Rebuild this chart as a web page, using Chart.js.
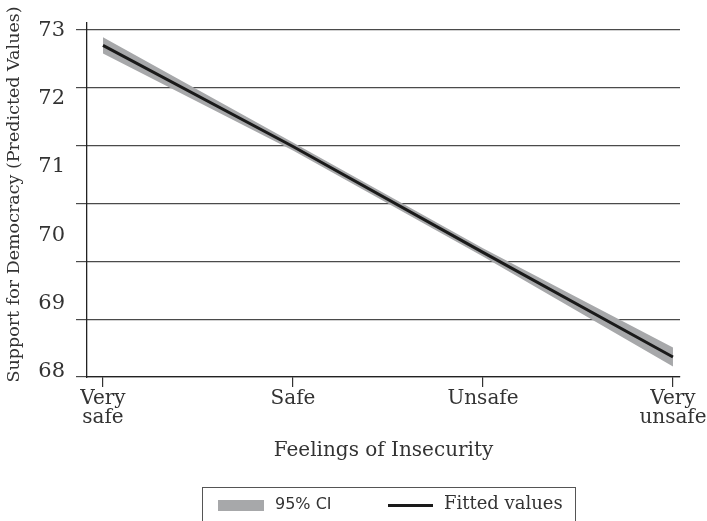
<!DOCTYPE html>
<html>
<head>
<meta charset="utf-8">
<script src="https://cdn.jsdelivr.net/npm/chart.js@4/dist/chart.umd.min.js"></script>
<style>
  html, body { margin: 0; padding: 0; background: #fff; }
  #wrap { position: relative; width: 707px; height: 521px; }
  canvas { position: absolute; left: 0; top: 0; }
  #legend { position: absolute; left: 202px; top: 487px; width: 374px; height: 40px;
    border: 1px solid #555; box-sizing: border-box; }
  .sw1 { position: absolute; left: 15px; top: 12px; width: 46px; height: 11px; background: #a7a8aa; }
  .t1 { position: absolute; left: 72px; top: 6px; font-family: "DejaVu Sans"; font-size: 16px; color: #333; }
  .sw2 { position: absolute; left: 185px; top: 16px; width: 45px; height: 3px; background: #1a1a1a; }
  .t2 { position: absolute; left: 241px; top: 4px; font-family: "DejaVu Serif"; font-size: 18px; color: #333; }
</style>
</head>
<body>
<div id="wrap">
  <canvas id="c" width="707" height="521"></canvas>
  <div id="legend">
    <div class="sw1"></div><div class="t1">95% CI</div>
    <div class="sw2"></div><div class="t2">Fitted values</div>
  </div>
</div>
<script>
const categories = [['Very', 'safe'], ['Safe'], ['Unsafe'], ['Very', 'unsafe']];
const xPositions = [0, 1, 2, 3];
const fitted = [72.78, 71.30, 69.75, 68.22];
const ciUpper = [72.90, 71.36, 69.81, 68.36];
const ciLower = [72.66, 71.24, 69.69, 68.08];
const yTickValues = [68, 69, 70, 71, 72, 73];
const gridTickValues = [0, 1, 2, 3, 4, 5, 6];

const pts = arr => arr.map((v, i) => ({ x: xPositions[i], y: v }));
const serif = "DejaVu Serif";

new Chart(document.getElementById('c'), {
  type: 'line',
  data: {
    datasets: [
      { label: 'upper', data: pts(ciUpper), borderWidth: 0, pointRadius: 0, fill: '+1',
        backgroundColor: '#a7a8aa', borderColor: 'rgba(0,0,0,0)', yAxisID: 'y', order: 2 },
      { label: 'lower', data: pts(ciLower), borderWidth: 0, pointRadius: 0, fill: false,
        borderColor: 'rgba(0,0,0,0)', yAxisID: 'y', order: 2 },
      { label: 'Fitted values', data: pts(fitted), borderWidth: 3, pointRadius: 0, fill: false,
        borderColor: '#1a1a1a', yAxisID: 'y', order: 1 }
    ]
  },
  options: {
    responsive: false,
    animation: false,
    events: [],
    layout: { padding: { top: 23, right: 27, bottom: 54, left: 0 } },
    plugins: { legend: { display: false }, tooltip: { enabled: false } },
    scales: {
      x: {
        type: 'linear', min: -0.084, max: 3.037,
        afterBuildTicks: s => { s.ticks = xPositions.map(v => ({ value: v })); },
        afterFit: s => { s.height = 90; s.paddingLeft = 0; s.paddingRight = 0; },
        ticks: { callback: (v) => categories[xPositions.indexOf(v)] ?? '',
          font: { family: serif, size: 20, lineHeight: 0.95 }, color: '#333', padding: 2, maxRotation: 0, autoSkip: false },
        grid: { drawOnChartArea: false, drawTicks: true, tickLength: 10, color: '#333', lineWidth: 1.2 },
        border: { display: true, color: '#222', width: 1.3 },
        title: { display: true, text: 'Feelings of Insecurity', font: { family: serif, size: 20 }, color: '#333',
          padding: { top: 0, bottom: 4 } }
      },
      y: {
        type: 'linear', position: 'left', weight: 1, min: 67.927, max: 73.107,
        afterBuildTicks: s => { s.ticks = yTickValues.map(v => ({ value: v })); },
        afterFit: s => { s.width = 87; s.paddingTop = 0; s.paddingBottom = 0; },
        ticks: { font: { family: serif, size: 21 }, color: '#333', padding: 14 },
        grid: { display: false },
        border: { display: true, color: '#222', width: 1.3 },
        title: { display: true, text: '  Support for Democracy (Predicted Values)', font: { family: serif, size: 17.5 },
          color: '#333', padding: { top: 4, bottom: 0 } }
      },
      yg: {
        type: 'linear', position: 'left', weight: 0, min: 0, max: 6.117,
        afterBuildTicks: s => { s.ticks = gridTickValues.map(v => ({ value: v })); },
        afterFit: s => { s.width = 0; s.paddingTop = 0; s.paddingBottom = 0; },
        ticks: { display: false },
        grid: { drawTicks: true, tickLength: 11, color: '#4a4a4a', lineWidth: 1.2 },
        border: { display: false }
      }
    }
  }
});
</script>
</body>
</html>
